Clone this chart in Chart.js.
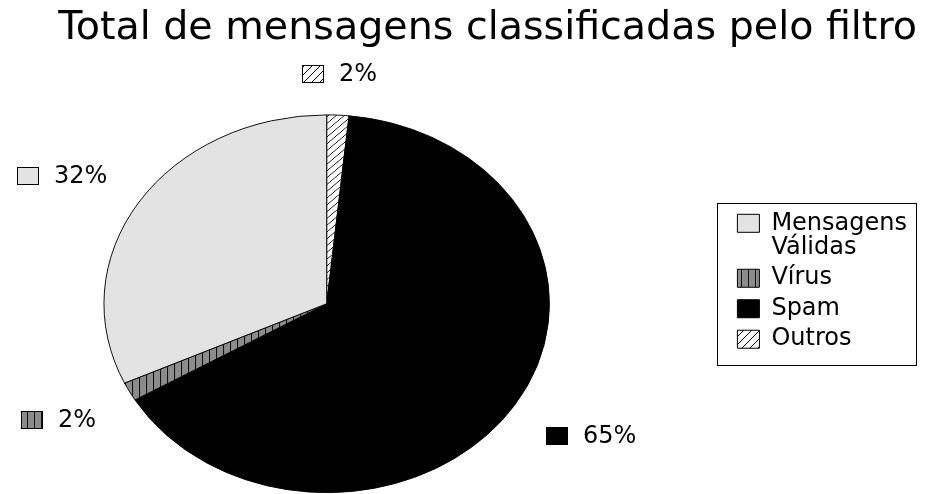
<!DOCTYPE html>
<html>
<head>
<meta charset="utf-8">
<title>Total de mensagens classificadas pelo filtro</title>
<script src="https://cdn.jsdelivr.net/npm/chart.js@4/dist/chart.umd.min.js"></script>
<style>
  html, body { margin: 0; padding: 0; background: #fff; overflow: hidden; }
  /* canvas starts left of the page so the pie sits left of centre */
  #wrap { position: absolute; left: -78px; top: 0; width: 1007px; height: 527px; }
</style>
</head>
<body>
<div id="wrap"><canvas id="pieChart"></canvas></div>
<script>
const titleText = 'Total de mensagens classificadas pelo filtro';
// slices go clockwise from 12 o'clock, same as the picture
const categories = ['Outros', 'Spam', 'Vírus', 'Mensagens Válidas'];
const shares = [1.6, 64.9, 1.6, 31.9];

const pieAspect = 0.848;   // the pie is drawn a bit flattened
const labelReach = 1.17;   // where the outside % labels sit

Chart.defaults.font.family = '"DejaVu Sans", sans-serif';
Chart.defaults.color = '#000';

function hatchPattern() {
  const c = document.createElement('canvas');
  c.width = 8; c.height = 8;
  const g = c.getContext('2d');
  g.fillStyle = '#fff';
  g.fillRect(0, 0, 8, 8);
  g.strokeStyle = '#000';
  g.lineWidth = 1;
  g.beginPath();
  g.moveTo(0, 8); g.lineTo(8, 0);
  g.moveTo(-1, 1); g.lineTo(1, -1);
  g.moveTo(7, 9); g.lineTo(9, 7);
  g.stroke();
  return g.createPattern(c, 'repeat');
}

function stripePattern() {
  const c = document.createElement('canvas');
  c.width = 7; c.height = 4;
  const g = c.getContext('2d');
  g.fillStyle = '#8c8c8c';
  g.fillRect(0, 0, 7, 4);
  g.fillStyle = '#111';
  g.fillRect(0, 0, 1, 4);
  return g.createPattern(c, 'repeat');
}

const fills = [hatchPattern(), '#000000', stripePattern(), '#e3e3e3'];

function drawOutsideLabels(chart) {
  const ctx = chart.ctx;
  const meta = chart.getDatasetMeta(0);
  const total = shares.reduce((a, b) => a + b, 0);
  const boxW = 22, boxH = 18, gap = 15;
  ctx.save();
  ctx.font = '24px "DejaVu Sans"';
  ctx.textBaseline = 'middle';
  ctx.textAlign = 'left';
  meta.data.forEach((arc, i) => {
    const p = arc.getProps(['x', 'y', 'startAngle', 'endAngle', 'outerRadius']);
    const mid = (p.startAngle + p.endAngle) / 2;
    const cos = Math.cos(mid), sin = Math.sin(mid);
    const ax = p.x + labelReach * p.outerRadius * cos;
    const ay = p.y + labelReach * p.outerRadius * pieAspect * sin;
    const text = Math.round(shares[i] / total * 100) + '%';
    const w = boxW + gap + ctx.measureText(text).width;
    const left = cos > 0.3 ? ax : (cos < -0.3 ? ax - w : ax - w / 2);
    const top = sin > 0.3 ? ay + 4 : (sin < -0.3 ? ay - boxH : ay - boxH / 2);
    const bx = Math.round(left), by = Math.round(top);
    ctx.fillStyle = fills[i];
    ctx.fillRect(bx, by, boxW, boxH);
    ctx.strokeStyle = '#000';
    ctx.lineWidth = 1;
    ctx.strokeRect(bx + 0.5, by + 0.5, boxW - 1, boxH - 1);
    ctx.fillStyle = '#000';
    ctx.fillText(text, bx + boxW + gap, by + boxH / 2 + 1);
  });
  ctx.restore();
}

const piePlugin = {
  id: 'flatPie',
  beforeDatasetsDraw(chart) {
    const arc = chart.getDatasetMeta(0).data[0];
    const ctx = chart.ctx;
    ctx.save();
    ctx.translate(arc.x, arc.y);
    ctx.scale(1, pieAspect);
    ctx.translate(-arc.x, -arc.y);
  },
  afterDatasetsDraw(chart) {
    chart.ctx.restore();
    drawOutsideLabels(chart);
  },
  afterDraw(chart) {
    // frame round the legend
    const lg = chart.legend;
    const hb = lg.legendHitBoxes;
    if (!hb || !hb.length) return;
    const last = hb[hb.length - 1];
    const left = Math.round(Math.min(...hb.map(b => b.left)) - 20);
    const top = Math.round(hb[0].top - 8);
    const bottom = Math.round(last.top + last.height + 13);
    const right = Math.round(lg.right - 1);
    const ctx = chart.ctx;
    ctx.save();
    ctx.strokeStyle = '#000';
    ctx.lineWidth = 1;
    ctx.strokeRect(left + 0.5, top + 0.5, right - left, bottom - top);
    ctx.restore();
  }
};

new Chart(document.getElementById('pieChart'), {
  type: 'pie',
  data: {
    labels: categories.map(c => c.split(' ')),
    datasets: [{
      data: shares,
      backgroundColor: fills,
      borderColor: '#000',
      borderWidth: 1
    }]
  },
  options: {
    responsive: true,
    maintainAspectRatio: false,
    animation: false,
    layout: { padding: { left: 0, right: 12, top: 0, bottom: 0 } },
    plugins: {
      title: {
        display: true,
        text: titleText,
        align: 'end',
        color: '#000',
        font: { size: 39.6, weight: 'normal' },
        padding: { top: 5, bottom: 28 }
      },
      legend: {
        position: 'right',
        reverse: true,
        title: { display: true, text: '', font: { size: 10 }, padding: { top: 24, bottom: 0 } },
        labels: {
          color: '#000',
          font: { size: 24, lineHeight: 1.02 },
          boxWidth: 22,
          boxHeight: 18,
          padding: 6
        }
      },
      tooltip: { enabled: false }
    }
  },
  plugins: [piePlugin]
});
</script>
</body>
</html>
